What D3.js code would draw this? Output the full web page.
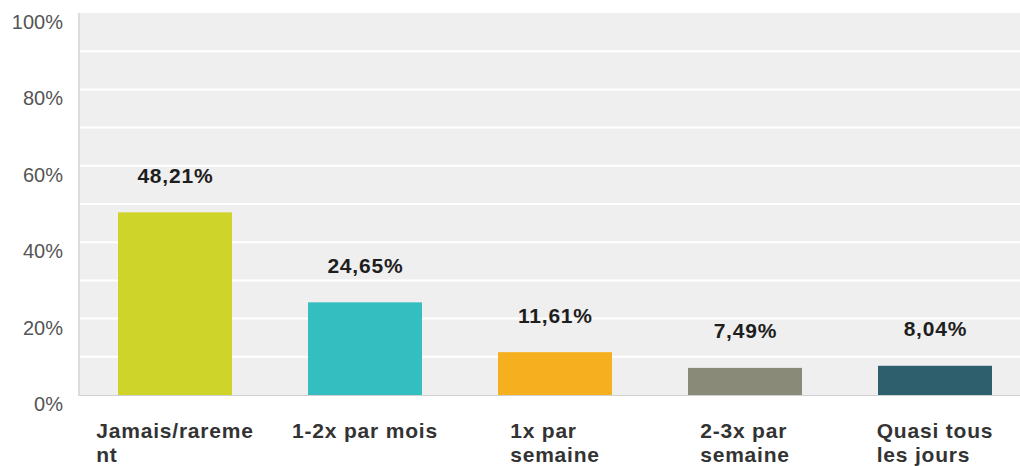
<!DOCTYPE html>
<html>
<head>
<meta charset="utf-8">
<script src="https://cdn.jsdelivr.net/npm/d3@7"></script>
<style>
  html, body { margin: 0; padding: 0; background: #fff; }
  svg { display: block; font-family: "Liberation Sans", Arial, sans-serif; }
</style>
</head>
<body>
<svg id="chart" width="1020" height="466"></svg>
<script>
const categories = ["Jamais/rarement", "1-2x par mois", "1x par semaine", "2-3x par semaine", "Quasi tous les jours"];
const labelLines = [["Jamais/rareme", "nt"], ["1-2x par mois"], ["1x par", "semaine"], ["2-3x par", "semaine"], ["Quasi tous", "les jours"]];
const values = [48.21, 24.65, 11.61, 7.49, 8.04];
const valueLabels = ["48,21%", "24,65%", "11,61%", "7,49%", "8,04%"];
const colors = ["#cfd42a", "#34bec0", "#f6b01f", "#898a78", "#2d5f6c"];
const yTicks = [0, 20, 40, 60, 80, 100];
const yTickLabels = ["0%", "20%", "40%", "60%", "80%", "100%"];
const gridValues = [10, 20, 30, 40, 50, 60, 70, 80, 90];

const svg = d3.select("#chart");
const plotLeft = 79, plotRight = 1020, plotTop = 13, plotBottom = 395;

const x = d3.scaleBand().domain(categories).range([80, 1030]).paddingInner(0.4).paddingOuter(0.2);
const y = d3.scaleLinear().domain([0, 100]).range([plotBottom, plotTop]);

// plot background
svg.append("rect")
  .attr("x", plotLeft).attr("y", plotTop)
  .attr("width", plotRight - plotLeft).attr("height", plotBottom - plotTop)
  .attr("fill", "#efefef");

// gridlines
svg.append("g").selectAll("line").data(gridValues).join("line")
  .attr("x1", plotLeft + 1).attr("x2", plotRight)
  .attr("y1", d => y(d)).attr("y2", d => y(d))
  .attr("stroke", "#ffffff").attr("stroke-width", 2);

// left border and baseline
svg.append("line")
  .attr("x1", plotLeft).attr("x2", plotLeft)
  .attr("y1", plotTop).attr("y2", plotBottom + 1)
  .attr("stroke", "#dcdcdc").attr("stroke-width", 2);
svg.append("line")
  .attr("x1", plotLeft).attr("x2", plotRight)
  .attr("y1", plotBottom + 0.5).attr("y2", plotBottom + 0.5)
  .attr("stroke", "#d0d0d0").attr("stroke-width", 1);

// y axis labels
const yAxis = d3.axisLeft(y).tickValues(yTicks).tickFormat((d, i) => yTickLabels[i]).tickSize(0).tickPadding(0);
const gy = svg.append("g").attr("transform", "translate(63,0)").call(yAxis);
gy.select(".domain").remove();
gy.selectAll("text")
  .attr("x", 0).attr("dy", null).attr("y", 15.5)
  .attr("font-size", 20).attr("fill", "#555").attr("font-family", "Liberation Sans, Arial, sans-serif");

// bars
svg.append("g").selectAll("rect").data(values).join("rect")
  .attr("x", (d, i) => x(categories[i]))
  .attr("y", d => y(d) + 1.5)
  .attr("width", x.bandwidth())
  .attr("height", d => plotBottom - y(d) - 1.5)
  .attr("fill", (d, i) => colors[i]);

// value labels
svg.append("g").selectAll("text").data(values).join("text")
  .attr("x", (d, i) => x(categories[i]) + x.bandwidth() / 2 + 0.4)
  .attr("y", d => y(d) - 28)
  .attr("text-anchor", "middle")
  .attr("letter-spacing", 0.8)
  .attr("font-size", 21).attr("font-weight", "bold").attr("fill", "#1e1e1e")
  .text((d, i) => valueLabels[i]);

// category labels (left aligned block centered on band)
const gx = svg.append("g");
categories.forEach((c, i) => {
  const t = gx.append("text")
    .attr("letter-spacing", 0.8)
    .attr("font-size", 21).attr("font-weight", "bold").attr("fill", "#333");
  labelLines[i].forEach((line, j) => {
    t.append("tspan").attr("x", 0).attr("y", 438 + j * 23.5).text(line);
  });
  let maxW = 0;
  t.selectAll("tspan").each(function () { maxW = Math.max(maxW, this.getComputedTextLength()); });
  const cx = x(c) + x.bandwidth() / 2;
  t.attr("transform", `translate(${cx - maxW / 2},0)`);
});
</script>
</body>
</html>
